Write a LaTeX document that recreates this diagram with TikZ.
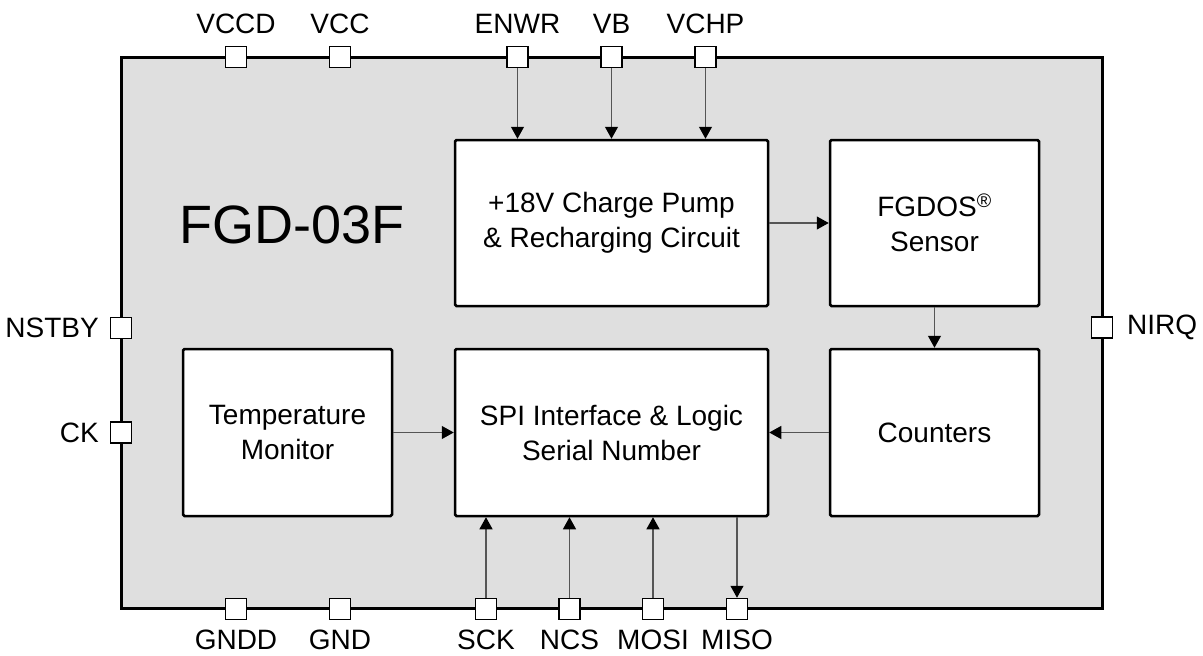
\documentclass[tikz,border=0pt]{standalone}
\usepackage{fontspec}
\setmainfont{Liberation Sans}
\usetikzlibrary{arrows.meta}
\definecolor{chipfill}{HTML}{DFDFDF}
\definecolor{wire}{HTML}{555555}
\begin{document}
\begin{tikzpicture}[x=1pt,y=-1pt,
  txt/.style={font=\fontsize{28}{35}\selectfont, inner sep=0pt},
  chipbox/.style={draw=black, line width=3pt, fill=chipfill, inner sep=0pt},
  blockbox/.style={draw=black, line width=2.5pt, fill=white, rounded corners=1.5pt, inner sep=0pt, align=center, font=\fontsize{28}{35}\selectfont},
  pin/.style={draw=black, line width=1.5pt, fill=white, minimum size=21pt, inner sep=0pt},
  arr/.style={draw=wire, line width=1.2pt, -{Triangle[length=12pt,width=13pt,color=black]}}
]
\useasboundingbox (0,0) rectangle (1203,656);
\fill[white] (0,0) rectangle (1203,656);

% chip body
\node[chipbox, minimum width=981pt, minimum height=551pt] (chip) at (611.5,332.5) {};
\node[font=\fontsize{54}{60}\selectfont, inner sep=0pt] (title) at (292,224.5) {FGD-03F};

% blocks
\node[blockbox, minimum width=313pt, minimum height=166pt] (cp) at (611.5,223) {+18V Charge Pump\\\& Recharging Circuit};
\node[blockbox, minimum width=209pt, minimum height=166pt] (fg) at (934.5,223) {FGDOS\textsuperscript{®}\\Sensor};
\node[blockbox, minimum width=209pt, minimum height=167pt] (temp) at (287.5,432.5) {Temperature\\Monitor};
\node[blockbox, minimum width=313pt, minimum height=167pt] (spi) at (611.5,432.5) {SPI Interface \& Logic\\Serial Number};
\node[blockbox, minimum width=209pt, minimum height=167pt] (cnt) at (934.5,432.5) {Counters};

% top pins
\node[pin] (vccd) at (236,57) {};
\node[pin] (vcc) at (340,57) {};
\node[pin] (enwr) at (517.5,57) {};
\node[pin] (vb) at (611.5,57) {};
\node[pin] (vchp) at (705.5,57) {};
% bottom pins
\node[pin] (gndd) at (236,609) {};
\node[pin] (gnd) at (340,609) {};
\node[pin] (sck) at (486,609) {};
\node[pin] (ncs) at (569.5,609) {};
\node[pin] (mosi) at (653,609) {};
\node[pin] (miso) at (737,609) {};
% side pins
\node[pin] (nstby) at (121,328) {};
\node[pin] (ck) at (121,432.5) {};
\node[pin] (nirq) at (1102,327.5) {};

% labels
\node[txt] (lvccd) at (236,23.5) {VCCD};
\node[txt] (lvcc) at (340,23.5) {VCC};
\node[txt] (lenwr) at (517.5,23.5) {ENWR};
\node[txt] (lvb) at (611.5,23.5) {VB};
\node[txt] (lvchp) at (705.5,23.5) {VCHP};
\node[txt] (lgndd) at (236,640) {GNDD};
\node[txt] (lgnd) at (340,640) {GND};
\node[txt] (lsck) at (486,640) {SCK};
\node[txt] (lncs) at (569.5,640) {NCS};
\node[txt] (lmosi) at (653,640) {MOSI};
\node[txt] (lmiso) at (737,640) {MISO};
\node[txt, anchor=east] (lnstby) at (99,328) {NSTBY};
\node[txt, anchor=east] (lck) at (99,432.5) {CK};
\node[txt, anchor=west] (lnirq) at (1127,327.5) {NIRQ};

% connectors
\draw[arr] (enwr.south) -- (enwr.south |- cp.north);
\draw[arr] (vb.south) -- (vb.south |- cp.north);
\draw[arr] (vchp.south) -- (vchp.south |- cp.north);
\draw[arr] (sck.north) -- (sck.north |- spi.south);
\draw[arr] (ncs.north) -- (ncs.north |- spi.south);
\draw[arr] (mosi.north) -- (mosi.north |- spi.south);
\draw[arr] (miso.north |- spi.south) -- (miso.north);
\draw[arr] (cp.east) -- (fg.west);
\draw[arr] (fg.south) -- (cnt.north);
\draw[arr] (temp.east) -- (spi.west);
\draw[arr] (cnt.west) -- (spi.east);
\end{tikzpicture}
\end{document}
